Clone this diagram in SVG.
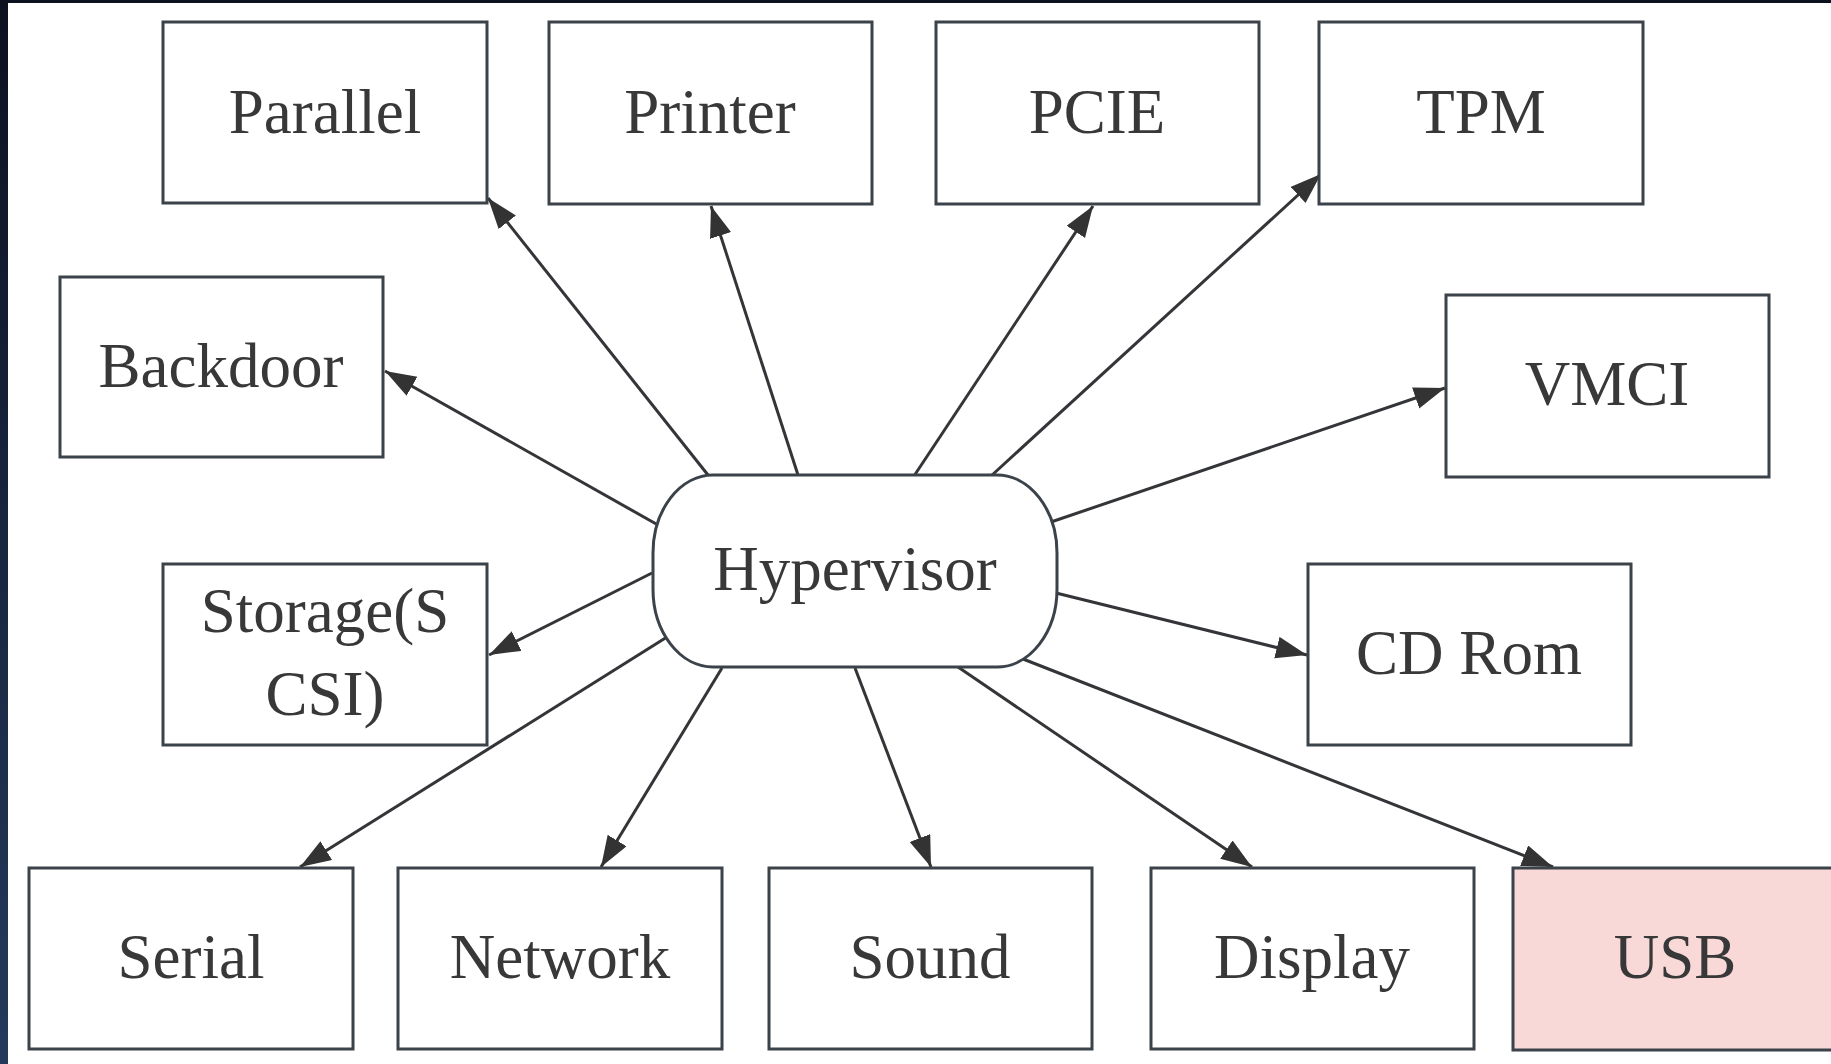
<svg xmlns="http://www.w3.org/2000/svg" width="1831" height="1064" viewBox="0 0 1831 1064">
<style>
.box{fill:#ffffff;stroke:#3b4249;stroke-width:3}
.usb{fill:#f8d9d8}
.lbl{font-family:"Liberation Serif","DejaVu Serif",serif;font-size:63px;fill:#383838;text-anchor:middle}
.edge{stroke:#333538;stroke-width:3;fill:none;marker-end:url(#arr)}
</style>
<defs>
<linearGradient id="band" x1="0" y1="0" x2="0" y2="1">
<stop offset="0" stop-color="#0c1120"/>
<stop offset="1" stop-color="#243a5c"/>
</linearGradient>
<marker id="arr" markerUnits="userSpaceOnUse" markerWidth="32" markerHeight="24" refX="31" refY="11" orient="auto">
<path d="M0,0 L31,11 L0,22 z" fill="#333333"/>
</marker>
</defs>
<rect x="0" y="0" width="1831" height="1064" fill="#ffffff"/>
<rect x="0" y="0" width="1831" height="3" fill="#0c1120"/>
<rect x="0" y="0" width="8" height="1064" fill="url(#band)"/>

<g id="connectors">
<line class="edge" x1="708" y1="475" x2="488" y2="198"/>
<line class="edge" x1="798" y1="475" x2="711" y2="206"/>
<line class="edge" x1="914" y1="476" x2="1093" y2="206"/>
<line class="edge" x1="991" y1="476" x2="1321" y2="174"/>
<line class="edge" x1="658" y1="525" x2="385" y2="371"/>
<line class="edge" x1="1051" y1="522" x2="1445" y2="388"/>
<line class="edge" x1="652" y1="573" x2="489" y2="655"/>
<line class="edge" x1="1056" y1="593" x2="1307" y2="655"/>
<line class="edge" x1="667" y1="637" x2="300" y2="867"/>
<line class="edge" x1="722" y1="668" x2="601" y2="867"/>
<line class="edge" x1="855" y1="668" x2="931" y2="867"/>
<line class="edge" x1="958" y1="667" x2="1252" y2="867"/>
<line class="edge" x1="1023" y1="659" x2="1553" y2="867"/>
</g>

<g id="hypervisor">
<rect class="box" x="653" y="475" width="404" height="192" rx="60" ry="78"/>
<text class="lbl" x="855" y="590">Hypervisor</text>
</g>
<g id="parallel">
<rect class="box" x="163" y="22" width="324" height="181"/>
<text class="lbl" x="325" y="133">Parallel</text>
</g>
<g id="printer">
<rect class="box" x="549" y="22" width="323" height="182"/>
<text class="lbl" x="710" y="133">Printer</text>
</g>
<g id="pcie">
<rect class="box" x="936" y="22" width="323" height="182"/>
<text class="lbl" x="1097" y="133">PCIE</text>
</g>
<g id="tpm">
<rect class="box" x="1319" y="22" width="324" height="182"/>
<text class="lbl" x="1481" y="133">TPM</text>
</g>
<g id="backdoor">
<rect class="box" x="60" y="277" width="323" height="180"/>
<text class="lbl" x="221" y="387">Backdoor</text>
</g>
<g id="vmci">
<rect class="box" x="1446" y="295" width="323" height="182"/>
<text class="lbl" x="1607" y="405">VMCI</text>
</g>
<g id="storage">
<rect class="box" x="163" y="564" width="324" height="181"/>
<text class="lbl" x="325" y="632">Storage(S</text>
<text class="lbl" x="325" y="715">CSI)</text>
</g>
<g id="cdrom">
<rect class="box" x="1308" y="564" width="323" height="181"/>
<text class="lbl" x="1469" y="674">CD Rom</text>
</g>
<g id="serial">
<rect class="box" x="29" y="868" width="324" height="181"/>
<text class="lbl" x="191" y="978">Serial</text>
</g>
<g id="network">
<rect class="box" x="398" y="868" width="324" height="181"/>
<text class="lbl" x="560" y="978">Network</text>
</g>
<g id="sound">
<rect class="box" x="769" y="868" width="323" height="181"/>
<text class="lbl" x="930" y="978">Sound</text>
</g>
<g id="display">
<rect class="box" x="1151" y="868" width="323" height="181"/>
<text class="lbl" x="1312" y="978">Display</text>
</g>
<g id="usb">
<rect class="box usb" x="1513" y="868" width="330" height="182"/>
<text class="lbl" x="1675" y="978">USB</text>
</g>
</svg>
